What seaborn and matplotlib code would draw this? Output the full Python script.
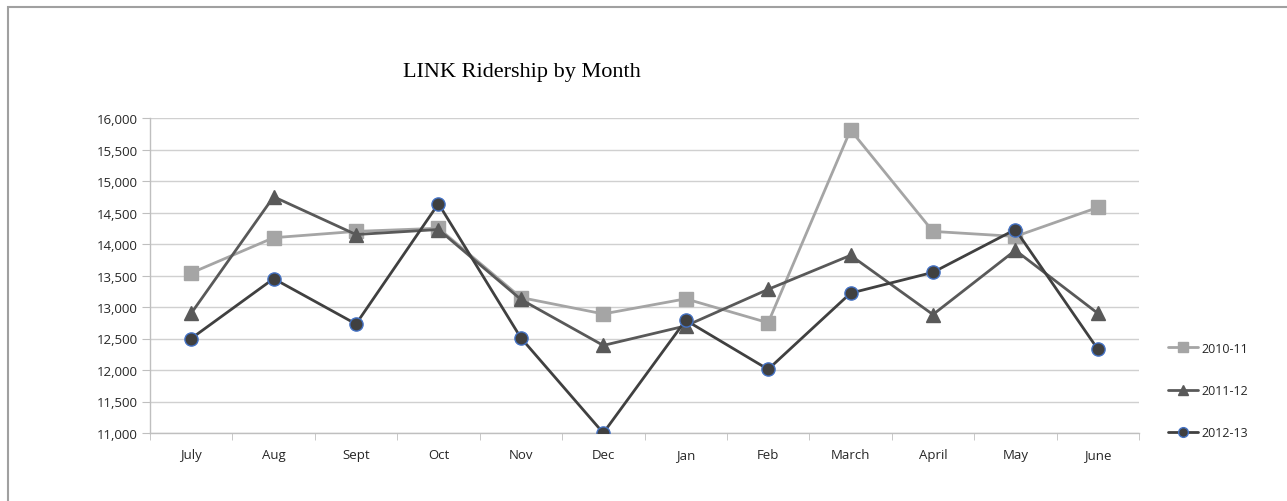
import numpy as np
import pandas as pd
import seaborn as sns
import matplotlib.pyplot as plt
from matplotlib.patches import Rectangle
from matplotlib.lines import Line2D

months = ["July", "Aug", "Sept", "Oct", "Nov", "Dec", "Jan", "Feb", "March", "April", "May", "June"]
r_2010_11 = [13540, 14100, 14200, 14250, 13150, 12890, 13130, 12750, 15810, 14200, 14120, 14580]
r_2011_12 = [12900, 14750, 14150, 14230, 13120, 12390, 12700, 13280, 13820, 12880, 13900, 12900]
r_2012_13 = [12500, 13450, 12730, 14640, 12510, 11000, 12790, 12010, 13220, 13550, 14230, 12330]

sns.set_style("white")
plt.rcParams["font.family"] = ["Open Sans", "DejaVu Sans"]
plt.rcParams["text.color"] = "#262626"

fig = plt.figure(figsize=(12.87, 5.02), dpi=100)
ax = fig.add_axes([150 / 1287, 1 - 434 / 502, 989 / 1287, 315 / 502])

styles = [
    ("2010-11", r_2010_11, "#A5A5A5", "s", "#A5A5A5"),
    ("2011-12", r_2011_12, "#595959", "^", "#595959"),
    ("2012-13", r_2012_13, "#404040", "o", "#4472C4"),
]
x = np.arange(len(months))
handles = []
for name, vals, col, mk, edge in styles:
    sns.lineplot(x=x, y=vals, ax=ax, color=col, linewidth=2.0, marker=mk,
                 markersize=9.5, markeredgecolor=edge, markeredgewidth=1.0,
                 zorder=3)
    handles.append(Line2D([], [], color=col, linewidth=2.0, marker=mk, markersize=7,
                          markeredgecolor=edge, markeredgewidth=1.0, label=name))

ax.set_xlim(-0.5, len(months) - 0.5)
ax.set_ylim(11000, 16000)
ax.set_yticks(np.arange(11000, 16001, 500))
ax.yaxis.set_major_formatter(plt.FuncFormatter(lambda v, p: f"{int(v):,}"))
ax.set_xticks(x)
ax.set_xticklabels(months)
ax.set_xticks(np.arange(-0.5, len(months)), minor=True)
ax.grid(axis="y", color="#D0D0D0", linewidth=1.0, zorder=0)
ax.set_axisbelow(True)
for s in ["top", "right"]:
    ax.spines[s].set_visible(False)
for s in ["left", "bottom"]:
    ax.spines[s].set_color("#BFBFBF")
    ax.spines[s].set_linewidth(1.0)
ax.tick_params(axis="y", which="major", length=6, color="#BFBFBF", direction="out",
               labelsize=9.5, pad=3, left=True, labelcolor="#262626")
ax.tick_params(axis="x", which="major", length=0, labelsize=9.5, pad=11, labelcolor="#262626")
ax.tick_params(axis="x", which="minor", length=5, color="#BFBFBF", direction="out", bottom=True)

ax.legend(handles=handles, loc="center left", bbox_to_anchor=(1.018, 0.135), frameon=False,
          fontsize=9, labelspacing=2.35, handlelength=2.4, handletextpad=0.3)

fig.text(522 / 1287, 1 - 73 / 502, "LINK Ridership by Month", ha="center", va="center",
         fontsize=16, family=["Liberation Serif", "DejaVu Serif"], color="black")

fig.patches.append(Rectangle((8 / 1287, -0.05), 1.0, 1.05 - 8 / 502, transform=fig.transFigure,
                             fill=False, edgecolor="#A0A0A0", linewidth=1.5))

fig.savefig("out.png", dpi=100)
